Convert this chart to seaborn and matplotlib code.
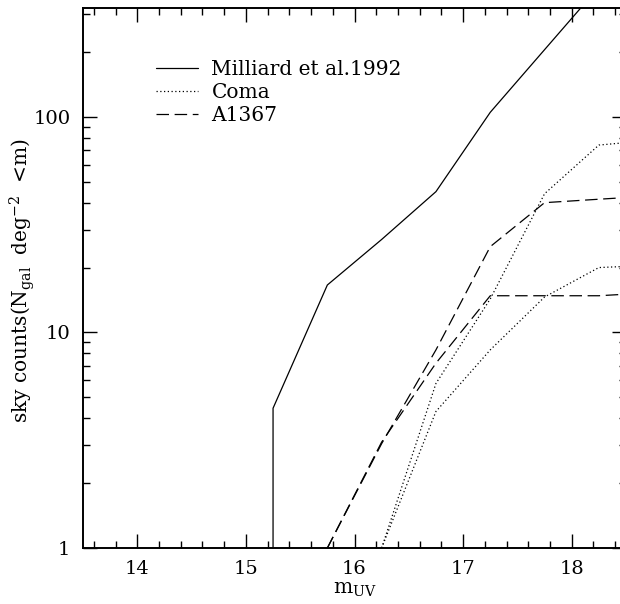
import matplotlib
matplotlib.use("Agg")
import matplotlib.pyplot as plt
from matplotlib.ticker import FixedLocator, MultipleLocator, LogLocator, NullFormatter
import seaborn as sns

# dados
mag_milliard = [15.25, 15.25, 15.75, 16.25, 16.75, 17.25, 17.75, 18.25]
n_milliard = [1.0, 4.45, 16.6, 27.0, 45.0, 105.0, 205.0, 400.0]

mag_coma = [16.25, 16.75, 17.25, 17.75, 18.25, 18.75]
n_coma_alto = [1.0, 5.8, 14.3, 44.0, 74.0, 78.0]
n_coma_baixo = [1.0, 4.3, 8.3, 14.6, 20.0, 20.5]

mag_a1367 = [15.75, 16.25, 16.75, 17.25, 17.75, 18.25, 18.75]
n_a1367_alto = [1.0, 3.05, 8.3, 25.0, 40.0, 41.5, 43.0]
n_a1367_baixo = [1.0, 3.1, 7.2, 14.8, 14.8, 14.8, 15.3]

rotulos = ["Milliard et al.1992", "Coma", "A1367"]

sns.set_style("ticks")
plt.rcParams["font.family"] = ["DejaVu Serif"]
plt.rcParams["mathtext.fontset"] = "dejavuserif"
for k in ["text.color", "axes.labelcolor", "xtick.color", "ytick.color"]:
    plt.rcParams[k] = "black"

fig = plt.figure(figsize=(6.2, 6.04), dpi=100)
ax = fig.add_axes([83 / 620, 56 / 604, 543 / 620, 540 / 604])

estilo_sol = dict(color="black", linewidth=0.9)
estilo_dot = dict(color="black", linewidth=0.9, linestyle=(0, (1, 2)))
estilo_dash = dict(color="black", linewidth=0.9, linestyle=(0, (10, 4.5)))

sns.lineplot(x=mag_milliard, y=n_milliard, ax=ax, sort=False, estimator=None,
             label=rotulos[0], **estilo_sol)
sns.lineplot(x=mag_coma, y=n_coma_alto, ax=ax, sort=False, estimator=None,
             label=rotulos[1], **estilo_dot)
sns.lineplot(x=mag_coma, y=n_coma_baixo, ax=ax, sort=False, estimator=None,
             **estilo_dot)
sns.lineplot(x=mag_a1367, y=n_a1367_alto, ax=ax, sort=False, estimator=None,
             label=rotulos[2], **estilo_dash)
sns.lineplot(x=mag_a1367, y=n_a1367_baixo, ax=ax, sort=False, estimator=None,
             **estilo_dash)

ax.set_yscale("log")
ax.set_xlim(13.5, 18.5)
ax.set_ylim(1, 320)

ax.xaxis.set_major_locator(FixedLocator([14, 15, 16, 17, 18]))
ax.xaxis.set_minor_locator(MultipleLocator(0.2))
ax.yaxis.set_major_locator(FixedLocator([1, 10, 100]))
ax.yaxis.set_minor_locator(LogLocator(base=10, subs=range(2, 10)))
ax.yaxis.set_minor_formatter(NullFormatter())
ax.set_yticklabels(["1", "10", "100"])

ax.tick_params(which="both", direction="in", top=True, right=True,
               labelsize=14, width=1.0)
ax.tick_params(which="major", length=10, pad=9)
ax.tick_params(which="minor", length=5)
for s in ax.spines.values():
    s.set_linewidth(1.4)
    s.set_color("black")

ax.set_xlabel(r"m$_{\rm UV}$", fontsize=14.5, labelpad=1)
ax.set_ylabel(r"sky counts(N$_{\rm gal}$  deg$^{-2}$  <m)", fontsize=14.5)
ax.yaxis.set_label_coords(-0.085, 0.496)

ax.legend(loc="upper left", bbox_to_anchor=(0.116, 0.922), frameon=False,
          fontsize=14.5, handlelength=2.1, handletextpad=0.65, labelspacing=0.2,
          borderpad=0)

fig.savefig("out.png", dpi=100)
